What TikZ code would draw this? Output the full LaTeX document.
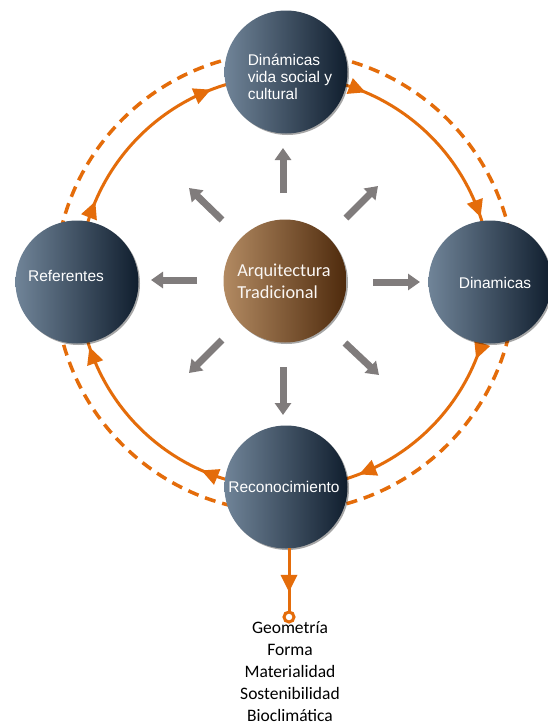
\documentclass[tikz,border=0pt]{standalone}
\usepackage{fontspec}
\setmainfont{Liberation Sans}
\newfontfamily\calib{Carlito}
\usetikzlibrary{arrows.meta,shadows,decorations.markings}
\definecolor{orng}{RGB}{228,108,10}
\definecolor{navyL}{RGB}{112,132,152}
\definecolor{navyR}{RGB}{16,30,46}
\definecolor{brownL}{RGB}{178,138,98}
\definecolor{brownR}{RGB}{78,42,12}
\definecolor{garr}{RGB}{128,124,124}
\tikzset{
  ball/.style={circle, minimum size=123pt, inner sep=0pt,
    drop shadow={shadow xshift=1.5pt, shadow yshift=-1.5pt, opacity=0.35, fill=black}},
  blueball/.style={ball, left color=navyL, right color=navyR},
  brownball/.style={ball, left color=brownL, right color=brownR},
  ctext/.style={text=white, font=\fontsize{15.5}{17}\selectfont, inner sep=0pt},
  atext/.style={text=white!94!brown, font=\calib\fontsize{18.3}{22}\selectfont, inner sep=0pt, align=left},
  listtext/.style={text=black, font=\calib\fontsize{17.5}{22}\selectfont, inner sep=0pt, align=center},
  garrow/.style={draw=garr, line width=7pt, -{Triangle[width=16pt,length=12pt]}},
  oline/.style={draw=orng, line width=3pt},
}
\newcommand{\otipmark}{\fill[orng] (5pt,0pt) -- (-12pt,8.5pt) -- (-12pt,-8.5pt) -- cycle;}
\begin{document}
\begin{tikzpicture}[x=1pt,y=-1pt]
\useasboundingbox (0,0) rectangle (548,726);
\fill[white] (0,0) rectangle (548,726);
\coordinate (O) at (285,282);
% dashed outer ring
\draw[oline, line width=3.5pt, dash pattern=on 11pt off 7pt] (O) circle[radius=230];
% solid ring with arrowheads (clockwise)
\draw[oline, postaction={decorate}, decoration={markings,
  mark=at position 0.057 with {\otipmark},
  mark=at position 0.1875 with {\otipmark},
  mark=at position 0.3125 with {\otipmark},
  mark=at position 0.445 with {\otipmark},
  mark=at position 0.56 with {\otipmark},
  mark=at position 0.6875 with {\otipmark},
  mark=at position 0.81 with {\otipmark},
  mark=at position 0.945 with {\otipmark}},
  fill=none] (O) circle[radius=206];
% circles
\node[blueball] (top) at (286,72) {};
\node[blueball] (lft) at (77,282) {};
\node[blueball] (rgt) at (490,282) {};
\node[blueball] (bot) at (286,487) {};
\node[brownball] (ctr) at (285,281) {};
% texts
\node[ctext, align=left] (ttop) at (290,77) {Dinámicas\\vida social y\\cultural};
\node[ctext] (tlft) at (66,276) {Referentes};
\node[ctext] (trgt) at (495,283) {Dinamicas};
\node[ctext] (tbot) at (284,487) {Reconocimiento};
\node[atext] (tctr) at (284,281) {Arquitectura\\Tradicional};
% gray arrows
\coordinate (g1s) at (283,193); \coordinate (g1e) at (283,148);
\coordinate (g2s) at (197,280); \coordinate (g2e) at (151,280);
\coordinate (g3s) at (373,282); \coordinate (g3e) at (420,282);
\coordinate (g4s) at (283,367); \coordinate (g4e) at (283,415);
\coordinate (g5s) at (222,220); \coordinate (g5e) at (189,188);
\coordinate (g6s) at (346,218); \coordinate (g6e) at (378,186);
\coordinate (g7s) at (222,340); \coordinate (g7e) at (189,373);
\coordinate (g8s) at (345,343); \coordinate (g8e) at (379,375);
\foreach \i in {1,...,8} \draw[garrow] (g\i s) -- (g\i e);
% bottom connector
\node[circle, draw=orng, line width=3pt, fill=white, minimum size=10pt, inner sep=0pt] (ring) at (289,617) {};
\coordinate (bs) at (289,548);
\draw[oline, postaction={decorate}, decoration={markings,
  mark=at position 0.62 with {\otipmark}}] (bs) -- (ring.north);
% list
\node[listtext, anchor=north] (list) at (290,621) {Geometría\\Forma\\Materialidad\\Sostenibilidad\\Bioclimática};
\end{tikzpicture}
\end{document}
